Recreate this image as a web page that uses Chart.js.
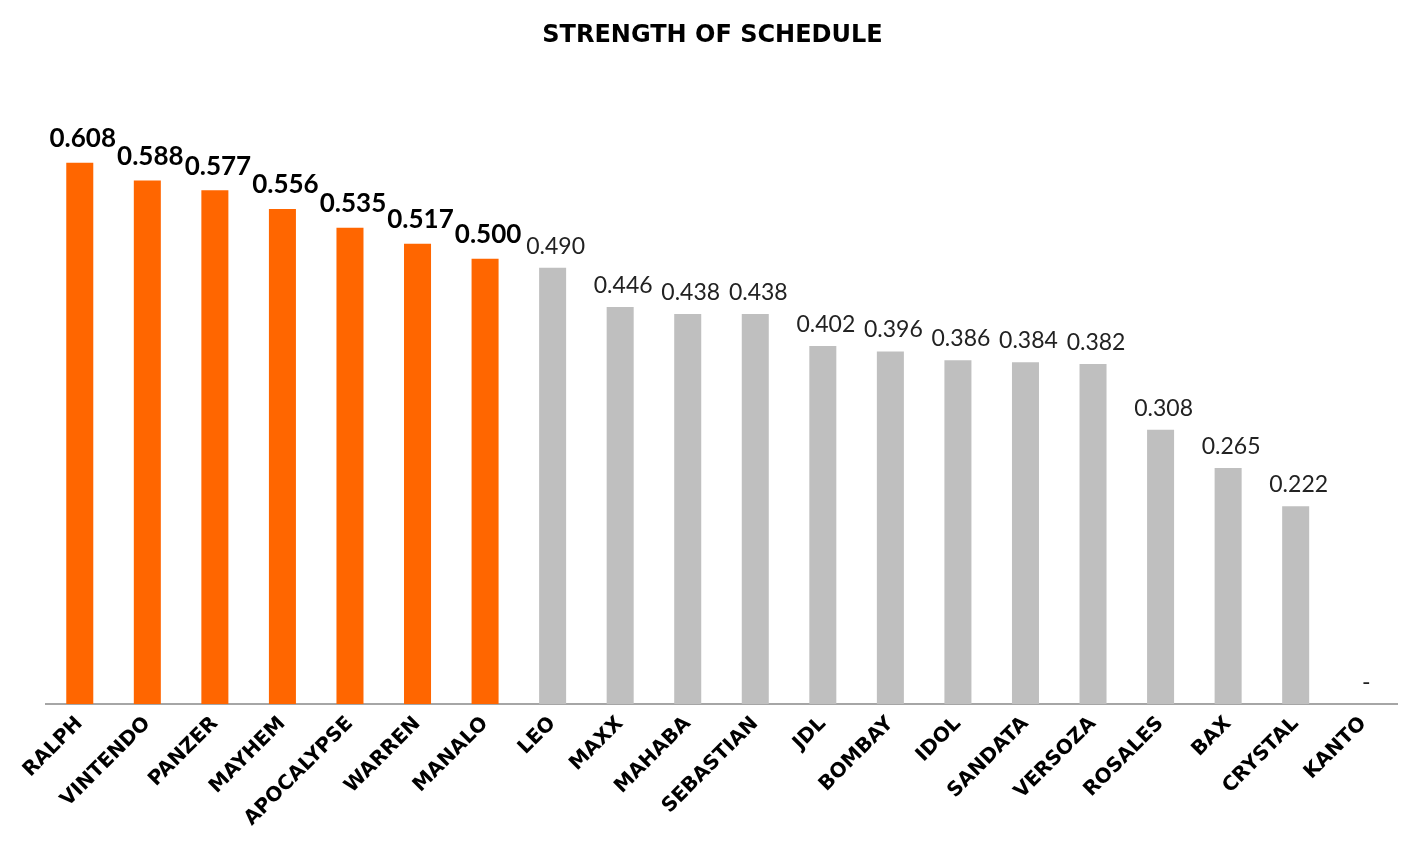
<!DOCTYPE html>
<html>
<head>
<meta charset="utf-8">
<script src="https://cdn.jsdelivr.net/npm/chart.js@4"></script>
<style>
  html, body { margin: 0; padding: 0; background: #fff; }
  .chartBox { width: 1425px; height: 857px; }
</style>
</head>
<body>
<div class="chartBox"><canvas id="sos"></canvas></div>
<script>
// data
const teams = ["RALPH", "VINTENDO", "PANZER", "MAYHEM", "APOCALYPSE", "WARREN", "MANALO",
  "LEO", "MAXX", "MAHABA", "SEBASTIAN", "JDL", "BOMBAY", "IDOL", "SANDATA", "VERSOZA",
  "ROSALES", "BAX", "CRYSTAL", "KANTO"];
const sos = [0.608, 0.588, 0.577, 0.556, 0.535, 0.517, 0.500,
  0.490, 0.446, 0.438, 0.438, 0.402, 0.396, 0.386, 0.384, 0.382,
  0.308, 0.265, 0.222, 0];
const topCount = 7; // first 7 are highlighted orange
const yTicks = [0, 0.7];

const ORANGE = "#ff6600";
const GREY = "#bfbfbf";

// draws value labels above bars (no datalabels plugin available offline)
const valueLabels = {
  id: "valueLabels",
  afterDatasetsDraw(chart) {
    const ctx = chart.ctx;
    const meta = chart.getDatasetMeta(0);
    ctx.save();
    ctx.textAlign = "center";
    ctx.textBaseline = "bottom";
    meta.data.forEach((bar, i) => {
      const v = sos[i];
      if (i < topCount) {
        ctx.font = "bold 26px Lato";
        ctx.fillStyle = "#000";
        ctx.fillText(v.toFixed(3), bar.x + 3, bar.y - 11);
      } else {
        ctx.font = "23px Lato";
        ctx.fillStyle = "#222";
        ctx.fillText(v === 0 ? "-" : v.toFixed(3), bar.x + 3, bar.y - 10);
      }
    });
    ctx.restore();
  }
};

const config = {
  type: "bar",
  data: {
    labels: teams,
    datasets: [{
      data: sos,
      backgroundColor: sos.map((v, i) => (i < topCount ? ORANGE : GREY)),
      barPercentage: 0.4,
      categoryPercentage: 1.0,
      borderWidth: 0
    }]
  },
  options: {
    responsive: false,
    animation: false,
    layout: { padding: { left: 28, right: 28, top: 0, bottom: 0 } },
    plugins: {
      legend: { display: false },
      tooltip: { enabled: false },
      title: {
        display: true,
        text: "STRENGTH OF SCHEDULE",
        color: "#000",
        font: { family: "'DejaVu Sans'", weight: "bold", size: 24 },
        padding: { top: 21, bottom: 31 }
      }
    },
    scales: {
      x: {
        grid: { display: false, drawTicks: false },
        border: { display: true, color: "#a6a6a6", width: 2 },
        ticks: {
          color: "#000",
          font: { family: "'DejaVu Sans'", weight: "bold", size: 20 },
          maxRotation: 45,
          minRotation: 45,
          padding: 8,
          autoSkip: false
        },
        afterFit(scale) { scale.height = 153; }
      },
      y: {
        display: true,
        min: yTicks[0],
        max: yTicks[1],
        grid: { display: false, drawTicks: false },
        border: { display: false },
        ticks: { display: false },
        afterFit(scale) { scale.width = 18; }
      }
    }
  },
  plugins: [valueLabels]
};

const canvas = document.getElementById("sos");
canvas.width = 1425;
canvas.height = 857;
const myChart = new Chart(canvas, config);
</script>
</body>
</html>
